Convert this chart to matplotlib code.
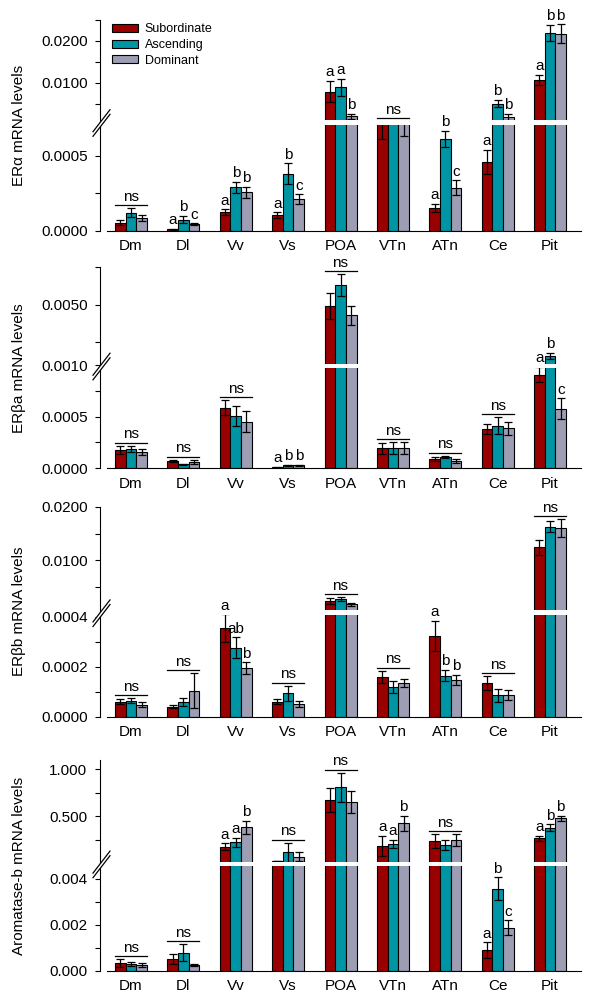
import numpy as np
import matplotlib
matplotlib.use("Agg")
import matplotlib.pyplot as plt
from matplotlib.patches import Rectangle, Polygon, Patch
from matplotlib.lines import Line2D
from matplotlib.transforms import IdentityTransform, ScaledTranslation

plt.rcParams['font.family'] = ['Liberation Sans', 'DejaVu Sans']

# ---------------- data ----------------
regions = ['Dm', 'Dl', 'Vv', 'Vs', 'POA', 'VTn', 'ATn', 'Ce', 'Pit']
groups = ['Subordinate', 'Ascending', 'Dominant']

# ER alpha
era_sub = [0.000054, 0.000010, 0.000125, 0.000105, 0.00785, 0.00073, 0.00015, 0.00046, 0.0106]
era_sub_err = [0.000018, 0.000004, 0.000018, 0.000018, 0.0025, 0.00012, 0.000028, 0.00008, 0.0012]
era_asc = [0.00012, 0.0000735, 0.00029, 0.00038, 0.0089, 0.00081, 0.000613, 0.00499, 0.0218]
era_asc_err = [0.00003, 0.000025, 0.000038, 0.00007, 0.002, 0.00005, 0.000055, 0.0009, 0.0019]
era_dom = [0.000083, 0.000043, 0.000257, 0.00021, 0.00199, 0.00073, 0.000287, 0.0018, 0.0216]
era_dom_err = [0.00002, 0.000007, 0.000037, 0.000033, 0.0006, 0.0001, 0.000049, 0.0008, 0.0023]
era_sig = ['ns', 'abc', 'abb', 'abc', 'aab', 'ns', 'abc', 'abb', 'abb']

# ER beta a
erba_sub = [0.000177, 0.000071, 0.000587, 0.000008, 0.00492, 0.000194, 0.00009, 0.000378, 0.000907]
erba_sub_err = [0.00004, 0.00001, 0.00007, 0.000003, 0.00084, 0.000055, 0.00002, 0.00005, 0.000076]
erba_asc = [0.000187, 0.000039, 0.000506, 0.000029, 0.00631, 0.000194, 0.000112, 0.000412, 0.00162]
erba_asc_err = [0.00003, 0.000005, 0.0001, 0.000005, 0.00073, 0.00006, 0.00001, 0.00008, 0.0002]
erba_dom = [0.000155, 0.000058, 0.000451, 0.000029, 0.0043, 0.000194, 0.00007, 0.000387, 0.000577]
erba_dom_err = [0.00003, 0.00002, 0.0001, 0.000005, 0.00064, 0.00006, 0.00002, 0.000065, 0.0001]
erba_sig = ['ns', 'ns', 'ns', 'abb', 'ns', 'ns', 'ns', 'ns', 'abc']

# ER beta b
erbb_sub = [0.00006, 0.00004, 0.000354, 0.00006, 0.00247, 0.00016, 0.000324, 0.000134, 0.0124]
erbb_sub_err = [0.000011, 0.000005, 0.000056, 0.00001, 0.00056, 0.000024, 0.00006, 0.000027, 0.00137]
erbb_asc = [0.000064, 0.00006, 0.000276, 0.000094, 0.00273, 0.00012, 0.000164, 0.0000856, 0.0163]
erbb_asc_err = [0.00001, 0.000016, 0.000042, 0.00003, 0.0004, 0.000024, 0.000023, 0.000025, 0.0011]
erbb_dom = [0.000047, 0.000104, 0.000194, 0.00005, 0.0018, 0.000134, 0.000147, 0.000087, 0.016]
erbb_dom_err = [0.00001, 0.00007, 0.000024, 0.000013, 0.0003, 0.000017, 0.00002, 0.00002, 0.0017]
erbb_sig = ['ns', 'ns', ['a', 'ab', 'b'], 'ns', 'ns', 'ns', 'abb', 'ns', 'ns']

# Aromatase b
arom_sub = [0.000335, 0.00051, 0.177, 0.025, 0.674, 0.184, 0.238, 0.000913, 0.266]
arom_sub_err = [0.00017, 0.00022, 0.035, 0.003, 0.124, 0.11, 0.07, 0.00033, 0.028]
arom_asc = [0.0003, 0.0008, 0.224, 0.117, 0.809, 0.206, 0.2, 0.00357, 0.379]
arom_asc_err = [0.0001, 0.00036, 0.05, 0.1, 0.156, 0.043, 0.053, 0.0005, 0.036]
arom_dom = [0.00025, 0.00026, 0.383, 0.07, 0.656, 0.426, 0.248, 0.00188, 0.479]
arom_dom_err = [0.00009, 0.00004, 0.07, 0.05, 0.117, 0.082, 0.06, 0.00033, 0.028]
arom_sig = ['ns', 'ns', 'aab', 'ns', 'ns', 'aab', 'ns', 'abc', 'abb']

ylabels = ['ERα mRNA levels', 'ERβa mRNA levels', 'ERβb mRNA levels', 'Aromatase-b mRNA levels']

era_ticks = [0, 0.0005, 0.01, 0.02]
era_ticklabels = ['0.0000', '0.0005', '0.0100', '0.0200']
era_minor = [0.00025, 0.005, 0.015, 0.025]
erba_ticks = [0, 0.0005, 0.001, 0.005]
erba_ticklabels = ['0.0000', '0.0005', '0.0010', '0.0050']
erba_minor = [0.00025, 0.00075, 0.0025, 0.0075]
erbb_ticks = [0, 0.0002, 0.0004, 0.01, 0.02]
erbb_ticklabels = ['0.0000', '0.0002', '0.0004', '0.0100', '0.0200']
erbb_minor = [0.0001, 0.0003, 0.005, 0.015]
arom_ticks = [0, 0.002, 0.004, 0.5, 1.0]
arom_ticklabels = ['0.000', '0.002', '0.004', '0.500', '1.000']
arom_minor = [0.001, 0.003, 0.25, 0.75]

# ---------------- layout ----------------
colors = ['#990000', '#0095a5', '#9d9db3']
W, H = 592, 1002
# (baseline pixel, break value, lower px/unit, upper px/unit, top value)
layout = [
    (230.7, 0.00073, 149600, 4200, 0.025),
    (468.3, 0.001, 103300, 15060, 0.0075),
    (716.7, 0.00042, 250000, 5360, 0.02),
    (971.0, 0.0047, 23000, 94, 1.1),
]
panels = [
    (ylabels[0], [era_sub, era_asc, era_dom], [era_sub_err, era_asc_err, era_dom_err], era_sig,
     era_ticks, era_ticklabels, era_minor),
    (ylabels[1], [erba_sub, erba_asc, erba_dom], [erba_sub_err, erba_asc_err, erba_dom_err], erba_sig,
     erba_ticks, erba_ticklabels, erba_minor),
    (ylabels[2], [erbb_sub, erbb_asc, erbb_dom], [erbb_sub_err, erbb_asc_err, erbb_dom_err], erbb_sig,
     erbb_ticks, erbb_ticklabels, erbb_minor),
    (ylabels[3], [arom_sub, arom_asc, arom_dom], [arom_sub_err, arom_asc_err, arom_dom_err], arom_sig,
     arom_ticks, arom_ticklabels, arom_minor),
]

fig = plt.figure(figsize=(W / 100, H / 100), dpi=100)
x_left_px, x_right_px = 100, 582
xmin, xmax = -0.592, 8.61
bw = 0.204
FS = 11


def make_funcs(c, kL, kU):
    def fwd(v):
        v = np.asarray(v, dtype=float)
        return np.where(v <= c, v * kL, c * kL + (v - c) * kU)

    def inv(u):
        u = np.asarray(u, dtype=float)
        return np.where(u <= c * kL, u / kL, c + (u - c * kL) / kU)
    return fwd, inv


for pi, ((ylab, vals, errs, sig, ticks, ticklabels, minor), (y0, c, kL, kU, top)) in enumerate(zip(panels, layout)):
    fwd, inv = make_funcs(c, kL, kU)
    hpx = float(fwd(top))
    rect = [x_left_px / W, 1 - y0 / H, (x_right_px - x_left_px) / W, hpx / H]
    ax = fig.add_axes(rect)
    ax.set_yscale('function', functions=(fwd, inv))
    ax.set_ylim(0, top)
    ax.set_xlim(xmin, xmax)
    x = np.arange(len(regions))
    for gi in range(3):
        xs = x + (gi - 1) * bw
        ax.bar(xs, vals[gi], width=bw, color=colors[gi], edgecolor='black', linewidth=0.8,
               zorder=2, label=groups[gi])
        ax.errorbar(xs, vals[gi], yerr=errs[gi], fmt='none', ecolor='black', elinewidth=0.9,
                    capsize=3, capthick=0.9, zorder=3)
    # significance
    for k, s in enumerate(sig):
        tops = [vals[g][k] + errs[g][k] for g in range(3)]
        if s == 'ns':
            m = max(tops)
            off = ax.transData + ScaledTranslation(0, 2.2 / 72, fig.dpi_scale_trans)
            ax.plot([x[k] - 1.5 * bw, x[k] + 1.5 * bw], [m, m], color='black', lw=0.9,
                    transform=off, clip_on=False, zorder=5)
            ax.annotate('ns', xy=(x[k], m), xytext=(0, 3.2), textcoords='offset points',
                        ha='center', va='bottom', fontsize=FS, zorder=5)
        else:
            letters = list(s) if isinstance(s, str) else s
            for g in range(3):
                ax.annotate(letters[g], xy=(x[k] + (g - 1) * bw, tops[g]), xytext=(0, 1.2),
                            textcoords='offset points', ha='center', va='bottom', fontsize=FS,
                            zorder=5)
    # axes styling
    for sp in ['top', 'right']:
        ax.spines[sp].set_visible(False)
    ax.spines['left'].set_linewidth(0.8)
    ax.spines['bottom'].set_linewidth(0.8)
    ax.spines['left'].set_bounds(0, top)
    ax.spines['bottom'].set_bounds(-0.46, 8.59)
    ax.set_yticks(ticks, ticklabels)
    ax.set_yticks(minor, minor=True)
    ax.tick_params(axis='y', which='both', direction='out', length=3.5, width=0.8,
                   labelsize=FS, pad=5.5)
    ax.set_xticks(x, regions)
    ax.tick_params(axis='x', length=0, labelsize=FS, pad=6)
    ax.set_ylabel(ylab, fontsize=FS, va='center')
    ax.yaxis.set_label_coords((19 - x_left_px) / (x_right_px - x_left_px), 0.5)
    ax.patch.set_visible(False)

    if pi == 0:
        handles = [Patch(facecolor=colors[g], edgecolor='black', linewidth=0.8) for g in range(3)]
        ax.legend(handles, groups, loc='upper left', bbox_to_anchor=(0.024, 0.982),
                  frameon=False, fontsize=9, handlelength=2.1, handleheight=0.6,
                  handletextpad=0.55, labelspacing=0.3, borderpad=0, borderaxespad=0)

    # break: white band through bars (below text) and axis break mark
    cx, cy = ax.transData.transform((xmin, c))
    xr, _ = ax.transData.transform((xmax, c))
    band = Rectangle((cx + 1.5, cy - 3.3), xr - cx - 1.5, 4.6, facecolor='white',
                     edgecolor='none', transform=IdentityTransform(), zorder=4)
    ax.add_patch(band)
    mx, my = cx + 1.5, cy - 1.5
    hx, hy, sep = 8.5, 11, 2.3
    poly = Polygon([(mx - hx, my - hy + sep), (mx + hx, my + hy + sep),
                    (mx + hx, my + hy - sep), (mx - hx, my - hy - sep)], closed=True,
                   facecolor='white', edgecolor='none', transform=IdentityTransform(), zorder=4)
    fig.add_artist(poly)
    for s_ in (sep, -sep):
        fig.add_artist(Line2D([mx - hx, mx + hx], [my - hy + s_, my + hy + s_], color='black',
                              lw=0.9, transform=IdentityTransform(), zorder=5))

fig.savefig('out.png', dpi=100, facecolor='white')
